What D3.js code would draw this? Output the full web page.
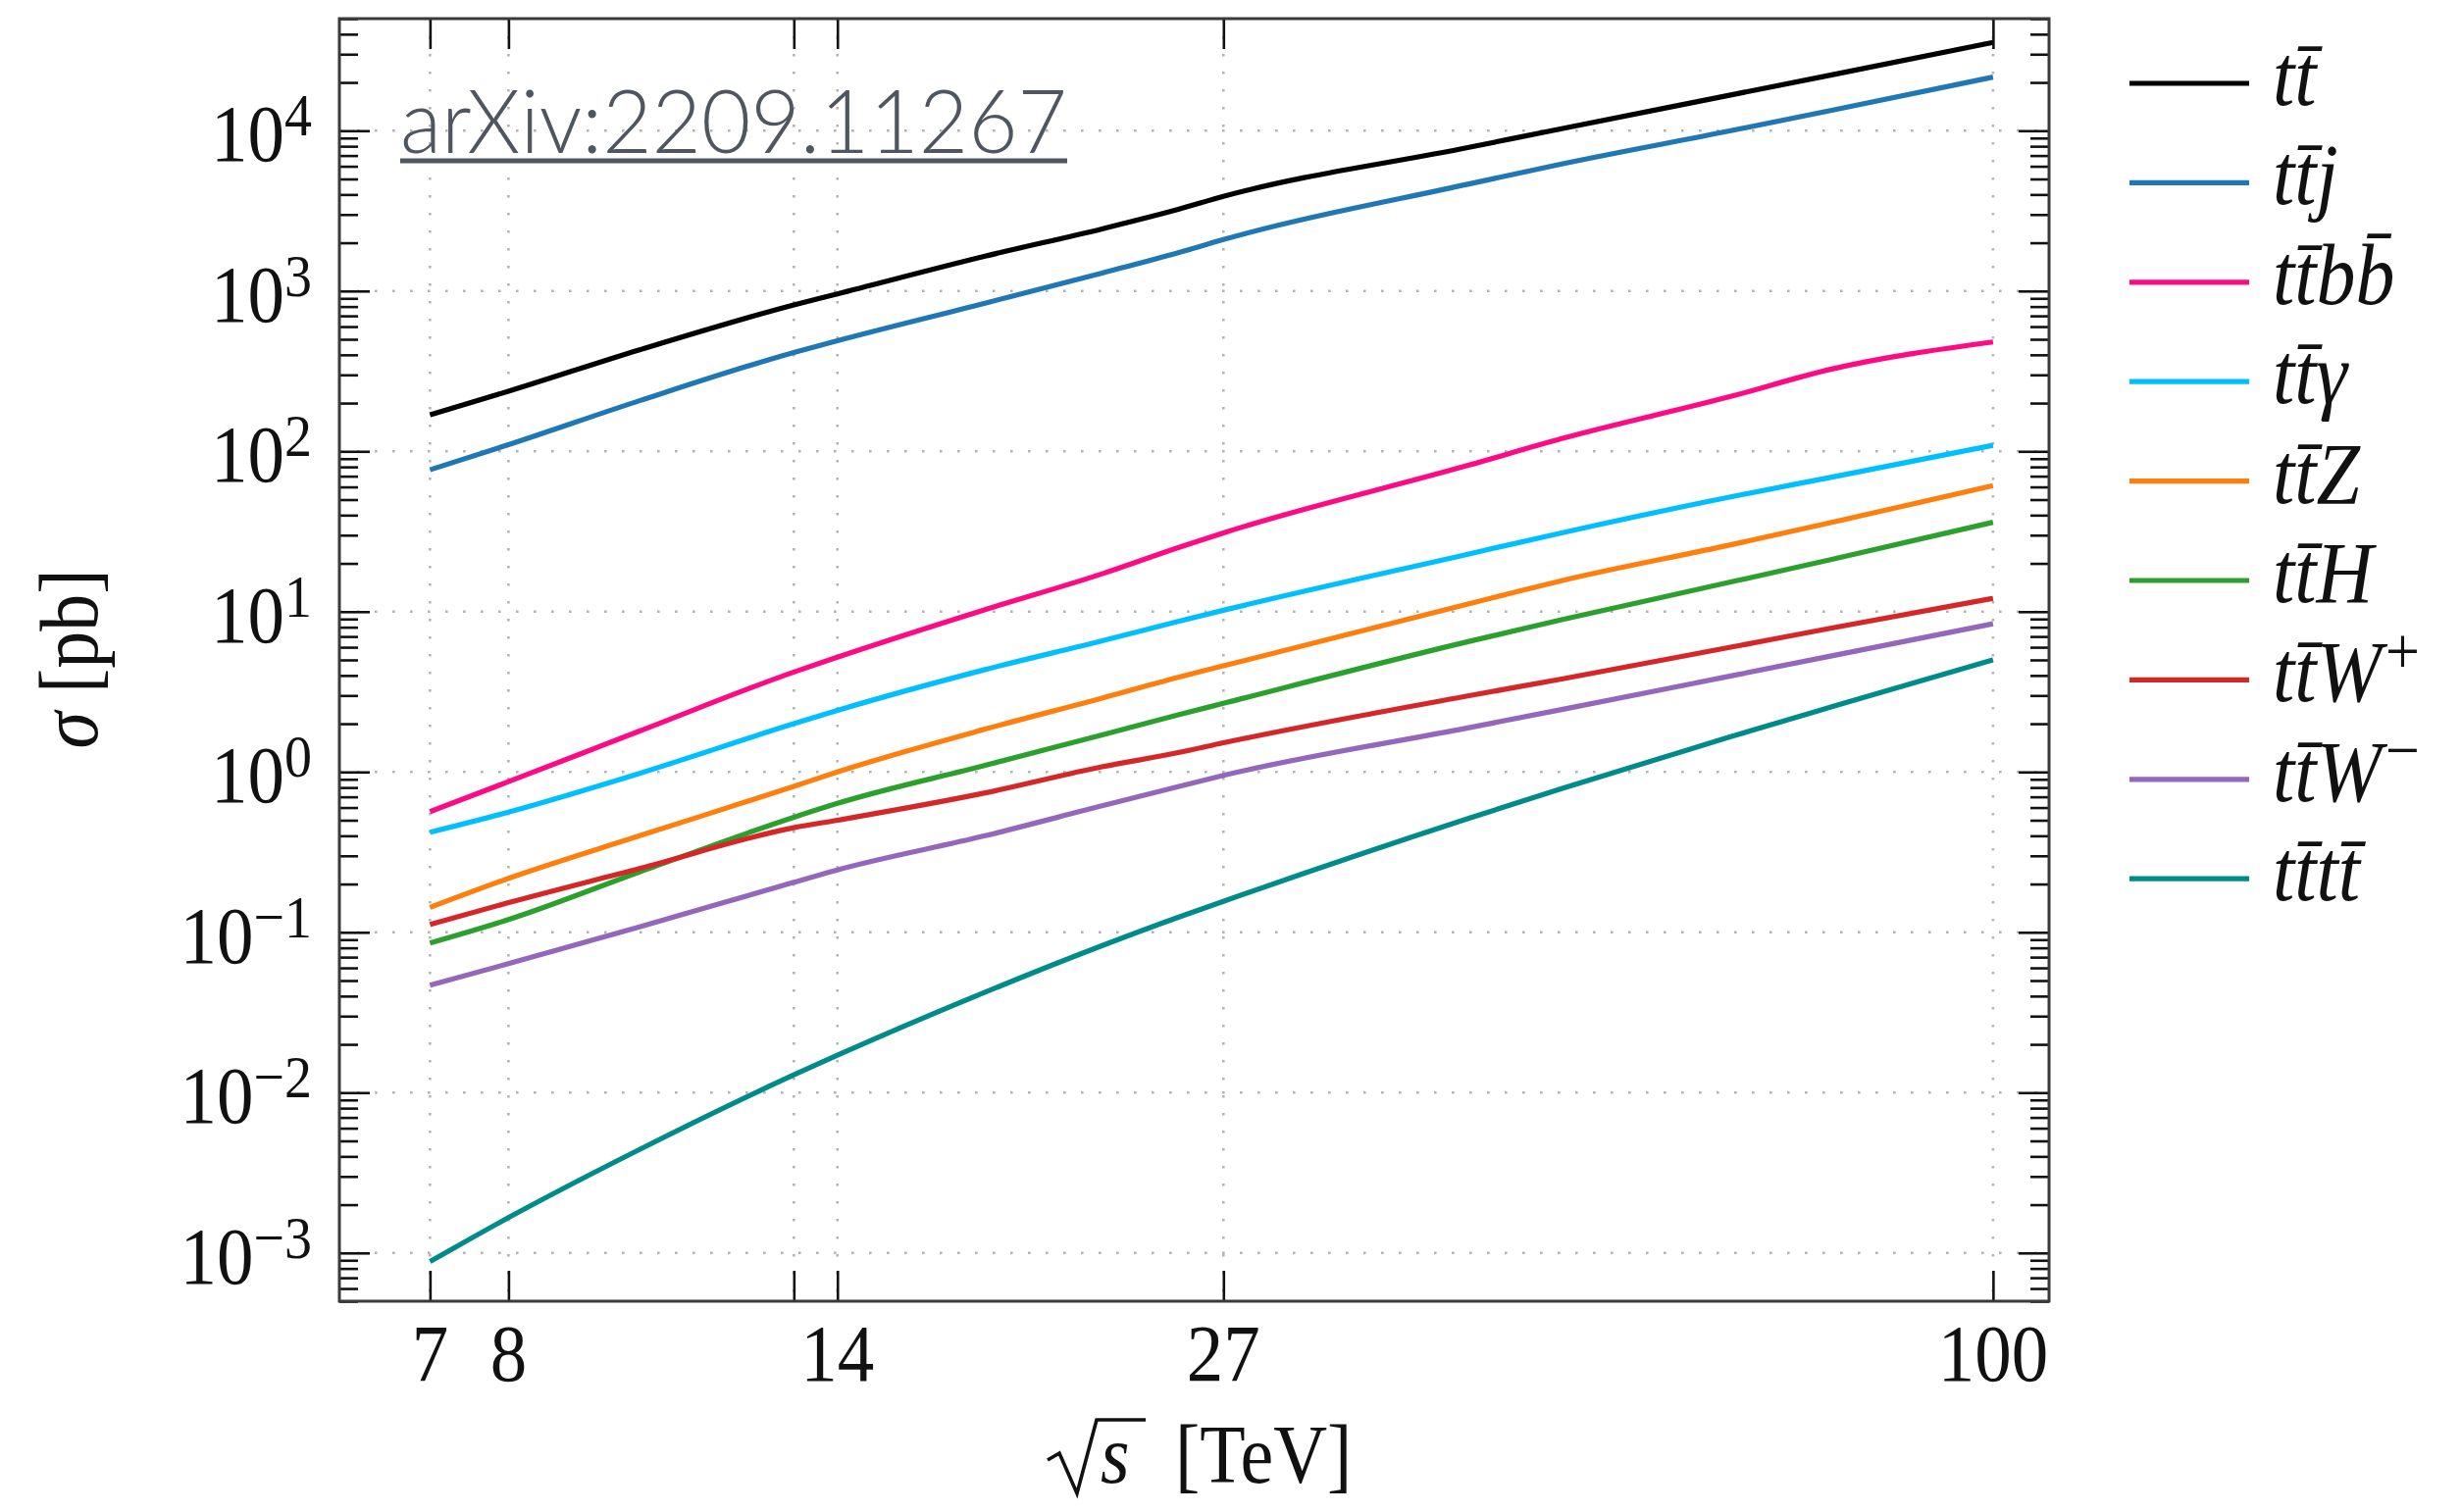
<!DOCTYPE html>
<html>
<head>
<meta charset="utf-8">
<script src="https://cdn.jsdelivr.net/npm/d3@7"></script>
<style>
  body { margin: 0; background: #fff; }
  svg text { font-family: "Liberation Serif", "DejaVu Serif", serif; fill: #111; }
</style>
</head>
<body>
<svg id="chart" width="2509" height="1542"></svg>
<script>
// sqrt(s) in TeV and cross sections in pb
var sqrtS   = [7, 8, 10, 13, 14, 18, 22, 25, 27, 41, 48, 64, 76, 100]
var ttbar   = [169, 237, 430, 819, 960, 1650, 2450, 3230, 3890, 7870, 10300, 16700, 22300, 35500]
var ttj     = [76.7, 110, 207, 414, 490, 840, 1300, 1734, 2094, 4650, 6200, 10000, 13400, 21600]
var ttbb    = [0.566, 0.87, 1.8, 4.2, 5.2, 10.3, 17.3, 25.1, 31, 82, 120, 220, 326, 481]
var ttgamma = [0.421, 0.562, 0.98, 2.0, 2.42, 4.35, 6.6, 8.7, 10.2, 22.9, 31, 52, 69, 109]
var ttZ     = [0.143, 0.217, 0.40, 0.813, 1.0, 1.85, 2.9, 3.9, 4.59, 11.2, 15.6, 26.1, 36, 61.1]
var ttH     = [0.0857, 0.120, 0.238, 0.522, 0.637, 1.1, 1.71, 2.27, 2.68, 6.52, 8.9, 15.3, 21.2, 36.1]
var ttWp    = [0.112, 0.153, 0.25, 0.449, 0.50, 0.74, 1.08, 1.32, 1.52, 2.99, 3.8, 6.0, 7.9, 12.1]
var ttWm    = [0.0468, 0.0637, 0.108, 0.205, 0.245, 0.40, 0.617, 0.81, 0.952, 1.89, 2.45, 3.97, 5.3, 8.41]
var tttt    = [8.83e-4, 1.66e-3, 4.42e-3, 0.0129, 0.0171, 0.0423, 0.083, 0.124, 0.156, 0.514, 0.787, 1.66, 2.55, 5.01]

var seriesValues = [ttbar, ttj, ttbb, ttgamma, ttZ, ttH, ttWp, ttWm, tttt]
var seriesSuffix = ['', 'j', 'bb\u0304', '\u03b3', 'Z', 'H', 'W', 'W', 'tt\u0304']
var seriesSup    = ['', '', '', '', '', '', '+', '\u2212', '']
var seriesColors = ['#000000', '#1f77b4', '#ff0a85', '#00bfff', '#ff7f0e', '#2ca02c', '#d62728', '#9467bd', '#008b8b']

var xTicks      = [7, 8, 13, 14, 27, 100]
var xTickLabels = ['7', '8', '', '14', '27', '100']
var yExponents  = [-3, -2, -1, 0, 1, 2, 3, 4]

var W = 2509, H = 1542
var margin = {top: 19, right: 420, bottom: 215, left: 346}
var stretch = 1.1

var svg = d3.select('#chart')

var x = d3.scaleLog().domain([6, 110]).range([margin.left, W - margin.right])
var y = d3.scaleLog().domain([5e-4, 5e4]).range([H - margin.bottom, margin.top])

var plotLeft = margin.left, plotRight = W - margin.right
var plotTop = margin.top, plotBottom = H - margin.bottom

var yMajors = yExponents.map(function (e) { return Math.pow(10, e) })
var yMinors = []
for (var e = -4; e <= 4; e++) {
  for (var k = 2; k <= 9; k++) {
    var v = k * Math.pow(10, e)
    if (v >= 5e-4 && v <= 5e4) yMinors.push(v)
  }
}

// dotted grid
var grid = svg.append('g').attr('stroke', '#b4b4b4').attr('stroke-width', 2.6)
  .attr('stroke-dasharray', '2.6 15.4')
grid.selectAll('.gy').data(yMajors).enter().append('line')
  .attr('x1', plotLeft).attr('x2', plotRight)
  .attr('y1', function (d) { return y(d) }).attr('y2', function (d) { return y(d) })
grid.selectAll('.gx').data(xTicks).enter().append('line')
  .attr('y1', plotTop).attr('y2', plotBottom)
  .attr('x1', function (d) { return x(d) }).attr('x2', function (d) { return x(d) })

// curves
var curveGen = d3.line()
  .x(function (d) { return x(d[0]) })
  .y(function (d) { return y(d[1]) })
  .curve(d3.curveMonotoneX)

seriesValues.forEach(function (vals, i) {
  svg.append('path')
    .datum(sqrtS.map(function (s, j) { return [s, vals[j]] }))
    .attr('fill', 'none')
    .attr('stroke', seriesColors[i])
    .attr('stroke-width', 5.2)
    .attr('stroke-linejoin', 'round')
    .attr('d', curveGen)
})

// ticks (inward, all four sides)
function styleAxis (g) {
  g.select('.domain').remove()
  g.selectAll('.tick line').attr('stroke', '#111').attr('stroke-width', 2.6)
  g.selectAll('.tick text').remove()
}
svg.append('g').attr('transform', 'translate(' + plotLeft + ',0)')
  .call(d3.axisLeft(y).tickValues(yMajors).tickSize(-31)).call(styleAxis)
svg.append('g').attr('transform', 'translate(' + plotLeft + ',0)')
  .call(d3.axisLeft(y).tickValues(yMinors).tickSize(-19)).call(styleAxis)
svg.append('g').attr('transform', 'translate(' + plotRight + ',0)')
  .call(d3.axisRight(y).tickValues(yMajors).tickSize(-31)).call(styleAxis)
svg.append('g').attr('transform', 'translate(' + plotRight + ',0)')
  .call(d3.axisRight(y).tickValues(yMinors).tickSize(-19)).call(styleAxis)
svg.append('g').attr('transform', 'translate(0,' + plotBottom + ')')
  .call(d3.axisBottom(x).tickValues(xTicks).tickSize(-31)).call(styleAxis)
svg.append('g').attr('transform', 'translate(0,' + plotTop + ')')
  .call(d3.axisTop(x).tickValues(xTicks).tickSize(-31)).call(styleAxis)

// frame
svg.append('rect')
  .attr('x', plotLeft).attr('y', plotTop)
  .attr('width', plotRight - plotLeft).attr('height', plotBottom - plotTop)
  .attr('fill', 'none').attr('stroke', '#3a3a3a').attr('stroke-width', 3)

// y tick labels  10^n
yExponents.forEach(function (e) {
  var t = svg.append('g')
    .attr('transform', 'translate(318,' + (y(Math.pow(10, e)) + 31) + ') scale(1,' + stretch + ')')
    .append('text').attr('text-anchor', 'end').style('font-size', '75px')
  t.append('tspan').text('10')
  t.append('tspan').attr('dy', '-0.42em').style('font-size', '56px')
    .text(e < 0 ? '\u2212' + (-e) : String(e))
})

// x tick labels
xTicks.forEach(function (s, i) {
  if (!xTickLabels[i]) return
  svg.append('g')
    .attr('transform', 'translate(' + x(s) + ',1408) scale(1,' + stretch + ')')
    .append('text').attr('text-anchor', 'middle').style('font-size', '75px')
    .text(xTickLabels[i])
})

// y title
var yl = svg.append('g')
  .attr('transform', 'translate(99,672) rotate(-90) scale(1,' + stretch + ')')
  .append('text').attr('text-anchor', 'middle').style('font-size', '76px')
yl.append('tspan').style('font-style', 'italic').text('\u03c3')
yl.append('tspan').text(' [pb]')

// x title: radical drawn as a path, then s and unit
svg.append('path')
  .attr('d', 'M1068,1489 L1080,1482 L1098,1523 L1118,1448 H1168')
  .attr('fill', 'none').attr('stroke', '#111').attr('stroke-width', 3.6)
  .attr('stroke-linejoin', 'miter')
svg.append('g')
  .attr('transform', 'translate(1122,1512) scale(1,' + stretch + ')')
  .append('text').style('font-size', '76px').style('font-style', 'italic').text('s')
svg.append('g')
  .attr('transform', 'translate(1198,1512) scale(1,' + stretch + ')')
  .append('text').style('font-size', '76px').text('[TeV]')

// legend
var legendX = 2171, legendY = 85, legendStep = 101.4
seriesValues.forEach(function (vals, i) {
  var ly = legendY + i * legendStep
  svg.append('line')
    .attr('x1', legendX).attr('x2', legendX + 122)
    .attr('y1', ly).attr('y2', ly)
    .attr('stroke', seriesColors[i]).attr('stroke-width', 5.2)
  var t = svg.append('g')
    .attr('transform', 'translate(' + (legendX + 146) + ',' + (ly + 22) + ') scale(1,' + stretch + ')')
    .append('text').style('font-size', '80px').style('font-style', 'italic')
  t.append('tspan').text('tt\u0304' + seriesSuffix[i])
  if (seriesSup[i]) {
    t.append('tspan').attr('dx', 4).attr('dy', '-0.42em').style('font-size', '62px').style('font-style', 'normal')
      .text(seriesSup[i])
  }
})

// arXiv stamp
svg.append('text')
  .attr('x', 408).attr('y', 156)
  .attr('textLength', 680).attr('lengthAdjust', 'spacingAndGlyphs')
  .style('font-family', 'Lato, "Open Sans", sans-serif')
  .style('font-weight', 300)
  .style('font-size', '90px')
  .style('fill', '#4f565f')
  .text('arXiv:2209.11267')
svg.append('line')
  .attr('x1', 408).attr('x2', 1088).attr('y1', 164).attr('y2', 164)
  .attr('stroke', '#4f565f').attr('stroke-width', 5)
</script>
</body>
</html>
